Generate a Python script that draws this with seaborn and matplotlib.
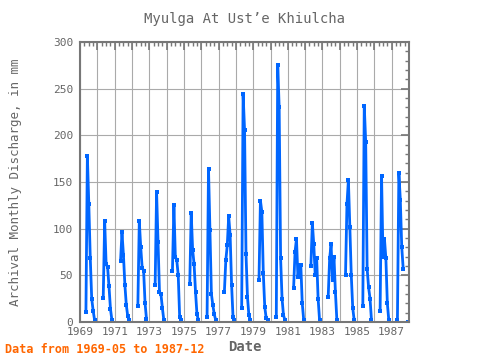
import numpy as np
import pandas as pd
import matplotlib

matplotlib.use("Agg")

import matplotlib.pyplot as plt
import seaborn as sns
from matplotlib.ticker import MultipleLocator, FuncFormatter

# monthly discharge (mm), each list starts in May; nan = no record
q1969 = [11, 178, 126, 69, 25, 12, 2]
q1970 = [26, 108, 62, 59, 38, 14, 2]
q1971 = [65, 96, 72, 40, 18, 6, 2]
q1972 = [17, 108, 80, 58, 55, 20, 3]
q1973 = [40, 139, 86, 32, 30, 15, 2]
q1974 = [55, 125, 70, 66, 50, 5, 2]
q1975 = [41, 117, 77, 62, 32, 8, 2]
q1976 = [5, 164, 98, 30, 18, 8, 2]
q1977 = [32, 66, 82, 113, 93, 40, 5, 2]
q1978 = [15, 244, 206, 73, 27, 7, 2]
q1979 = [45, 130, 118, 52, 16, 4, 2]
q1980 = [5, 275, 230, 68, 25, 7, 2]
q1981 = [36, 75, 89, 48, 61, 61, 20, 2]
q1982 = [60, 106, 83, 50, 68, 25, 2]
q1983 = [27, 68, 83, 45, 70, 32, 2]
q1984 = [50, 126, 152, 102, 50, 15, 2]
q1985 = [17, 232, 193, 57, 37, 25, 2]
q1986 = [12, 156, 70, 89, 68, 20, 2]
q1987 = [2, 160, 131, 80, 57, np.nan, np.nan, 0]

years = list(range(1969, 1988))
first_month = 5

TITLE = "Myulga At Ust\u2019e Khiulcha"
YLABEL = "Archival Monthly Discharge, in mm"
NOTE = "Data from 1969-05 to 1987-12"

GREY = "#666666"
BLUE = "#0066ff"


def build_frame():
    series = [q1969, q1970, q1971, q1972, q1973, q1974, q1975, q1976, q1977, q1978,
              q1979, q1980, q1981, q1982, q1983, q1984, q1985, q1986, q1987]
    rows = []
    seg = 0
    for year, vals in zip(years, series):
        seg += 1
        for i, v in enumerate(vals):
            month = first_month + i
            if np.isnan(v):
                seg += 1
                continue
            rows.append({"date": year + (month - 1) / 12, "flow": v, "seg": seg})
    return pd.DataFrame(rows)


def main():
    df = build_frame()

    sns.set_theme(style="white")
    plt.rcParams["font.family"] = ["DejaVu Sans Mono", "DejaVu Sans"]

    fig = plt.figure(figsize=(4.8, 3.6), dpi=100)
    ax = fig.add_axes([0.167, 0.106, 0.685, 0.777])

    sns.lineplot(data=df, x="date", y="flow", units="seg", estimator=None,
                 color=BLUE, linewidth=2.0, marker="s", markersize=2.4,
                 markeredgewidth=0, ax=ax, legend=False)

    ax.set_xlim(1969, 1988)
    ax.set_ylim(0, 300)
    ax.xaxis.set_major_locator(MultipleLocator(1))
    ax.xaxis.set_minor_locator(MultipleLocator(0.25))
    ax.xaxis.set_major_formatter(FuncFormatter(lambda x, _: f"{int(round(x))}" if int(round(x)) % 2 == 1 else ""))
    ax.yaxis.set_major_locator(MultipleLocator(50))
    ax.yaxis.set_minor_locator(MultipleLocator(10))

    ax.grid(True, which="major", color="#aaaaaa", linewidth=0.8)
    ax.set_axisbelow(True)
    for s in ax.spines.values():
        s.set_color("#777777")
        s.set_linewidth(1.5)
    ax.tick_params(which="both", direction="in", top=True, right=True, color="#777777",
                   labelcolor=GREY, labelsize=8)
    ax.tick_params(which="major", length=6, width=1.2)
    ax.tick_params(which="minor", length=3, width=1.0)
    ax.tick_params(axis="y", pad=5)
    ax.tick_params(axis="x", pad=4)

    ax.set_title(TITLE, color=GREY, fontsize=10, pad=14)
    ax.set_xlabel("Date", color=GREY, fontsize=10, fontweight="bold", labelpad=2)
    ax.set_ylabel(YLABEL, color=GREY, fontsize=9, labelpad=22)
    fig.text(0.01, 0.02, NOTE, color="#ff6600", fontsize=8.5, fontweight="bold")

    fig.savefig("out.png", dpi=100)
    plt.close(fig)


if __name__ == "__main__":
    main()
